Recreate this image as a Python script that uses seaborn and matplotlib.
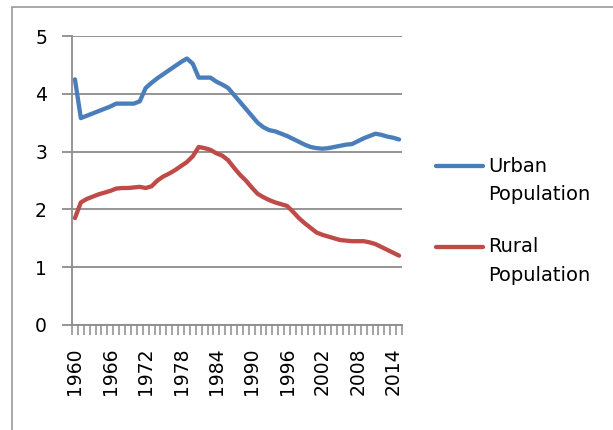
import numpy as np
import pandas as pd
import matplotlib
matplotlib.use("Agg")
import matplotlib.pyplot as plt
import seaborn as sns
from matplotlib.patches import Rectangle
from matplotlib.legend_handler import HandlerLine2D

# ---- data ----
years = list(range(1960, 2016))
urban = [4.25, 3.58, 3.62, 3.66, 3.70, 3.74, 3.78, 3.83, 3.83, 3.83,
         3.83, 3.87, 4.10, 4.19, 4.27, 4.34, 4.41, 4.48, 4.55, 4.61,
         4.52, 4.28, 4.28, 4.28, 4.21, 4.16, 4.10, 3.98, 3.86, 3.74,
         3.62, 3.50, 3.42, 3.37, 3.35, 3.31, 3.27, 3.22, 3.17, 3.12,
         3.08, 3.06, 3.05, 3.06, 3.08, 3.10, 3.12, 3.13, 3.18, 3.23,
         3.27, 3.31, 3.29, 3.26, 3.24, 3.21]
rural = [1.85, 2.12, 2.18, 2.22, 2.26, 2.29, 2.32, 2.36, 2.37, 2.37,
         2.38, 2.39, 2.37, 2.40, 2.50, 2.57, 2.62, 2.68, 2.75, 2.82,
         2.92, 3.08, 3.06, 3.03, 2.97, 2.93, 2.85, 2.72, 2.60, 2.50,
         2.38, 2.27, 2.21, 2.16, 2.12, 2.09, 2.06, 1.96, 1.85, 1.76,
         1.68, 1.60, 1.56, 1.53, 1.50, 1.47, 1.46, 1.45, 1.45, 1.45,
         1.43, 1.40, 1.35, 1.30, 1.25, 1.20]
series_names = ["Urban\nPopulation", "Rural\nPopulation"]
label_years = list(range(1960, 2015, 6))
y_ticks = [0, 1, 2, 3, 4, 5]

df = pd.concat([
    pd.DataFrame({"year": years, "value": urban, "series": series_names[0]}),
    pd.DataFrame({"year": years, "value": rural, "series": series_names[1]}),
], ignore_index=True)

palette = {series_names[0]: "#4A7EBB", series_names[1]: "#BE4B48"}
grid_col = "#8C8C8C"
FS = 14
LINESP = 1.62


class FirstLineHandler(HandlerLine2D):
    # Excel puts the legend key next to the first line of a wrapped label
    def create_artists(self, legend, orig_handle, xdescent, ydescent,
                       width, height, fontsize, trans):
        arts = super().create_artists(legend, orig_handle, xdescent, ydescent,
                                      width, height, fontsize, trans)
        shift = 0.5 * LINESP * fontsize * 0.96
        for a in arts:
            a.set_ydata(np.asarray(a.get_ydata(), dtype=float) + shift)
        return arts


sns.set_style("white")
plt.rcParams["font.family"] = ["DejaVu Sans"]

fig = plt.figure(figsize=(6.13, 4.30), dpi=100)
ax = fig.add_axes([72 / 613, 105 / 430, 330 / 613, 289 / 430])

sns.lineplot(data=df, x="year", y="value", hue="series", palette=palette,
             linewidth=3.1, ax=ax, solid_capstyle="round", solid_joinstyle="round")

ax.set_xlim(years[0] - 0.5, years[-1] + 0.5)
ax.set_ylim(0, 5)
ax.set_yticks(y_ticks)
ax.set_xticks(label_years)
ax.set_xticks(np.arange(years[0] - 0.5, years[-1] + 1.0, 1.0), minor=True)
ax.set_xlabel("")
ax.set_ylabel("")

ax.grid(axis="y", color=grid_col, linewidth=1.3)
ax.set_axisbelow(True)
for s in ["top", "right"]:
    ax.spines[s].set_visible(False)
for s in ["left", "bottom"]:
    ax.spines[s].set_color(grid_col)
    ax.spines[s].set_linewidth(1.3)

ax.tick_params(axis="x", which="major", bottom=True, length=0, pad=16,
               labelsize=13.5, labelrotation=90, labelcolor="black")
ax.tick_params(axis="x", which="minor", bottom=True, length=7, width=1.1,
               color=grid_col, direction="out")
ax.tick_params(axis="y", left=True, length=7, width=1.3, color=grid_col,
               pad=11, labelsize=13.5, labelcolor="black", direction="out")

leg = ax.legend(loc="center left", bbox_to_anchor=(1.05, 0.36), frameon=False,
                fontsize=FS, handlelength=2.4, handletextpad=0.3,
                labelspacing=1.7, labelcolor="black",
                handler_map={plt.Line2D: FirstLineHandler()})
for line in leg.get_lines():
    line.set_linewidth(3.1)
for t in leg.get_texts():
    t.set_linespacing(LINESP)

# chart border like the original
fig.add_artist(Rectangle((12 / 613, -0.1), 1.2, (423 / 430) + 0.1,
                         transform=fig.transFigure, fill=False,
                         edgecolor="#9A9A9A", linewidth=1.2))

fig.savefig("out.png", dpi=100)
